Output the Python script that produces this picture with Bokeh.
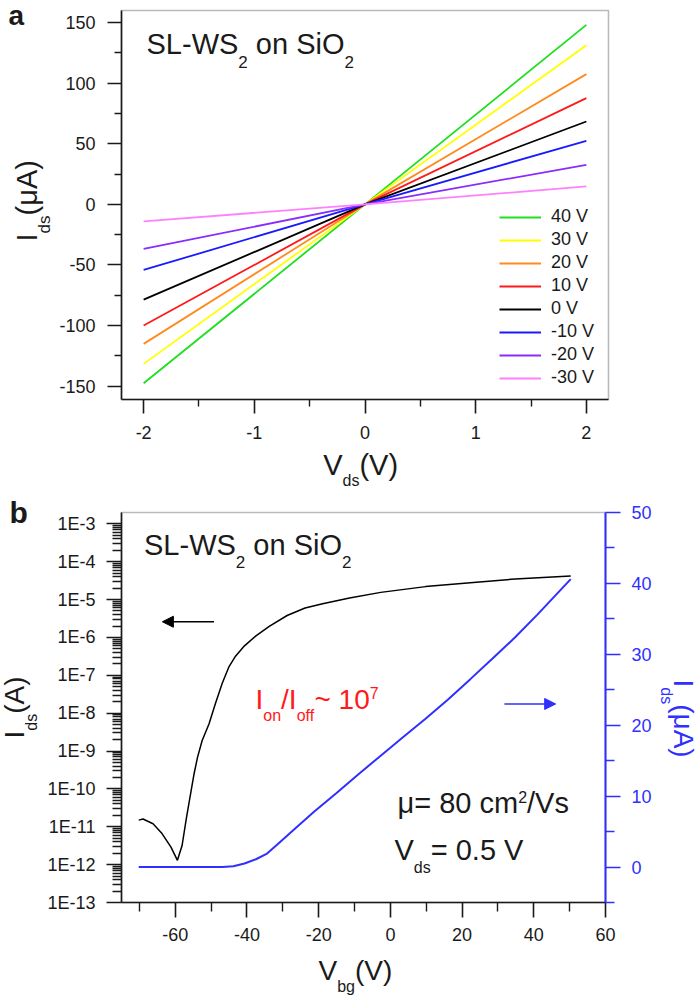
import math
from bokeh.plotting import figure
from bokeh.layouts import column
from bokeh.models import (Range1d, LinearScale, LinearAxis, FixedTicker, CustomJSTickFormatter,
                          Label, Arrow, NormalHead, Legend, LegendItem, BoxAnnotation)
from bokeh.embed import file_html
from bokeh.resources import INLINE

FONT = "Liberation Sans"
INK = "#1a1a1a"
BLUE = "#2f2fff"

# ---------------- panel a : Ids vs Vds for several back-gate voltages ----------------
vds = [-2.0, 0.0, 2.0]
gate_labels = ["40 V", "30 V", "20 V", "10 V", "0 V", "-10 V", "-20 V", "-30 V"]
gate_colors = ["#1ee01e", "#ffff00", "#ff8a1e", "#ff1a1a", "#000000", "#1a1aff", "#8a2cff", "#ff80ff"]
ids_p40 = [-147.6, 0.0, 148.1]
ids_p30 = [-131.6, 0.0, 131.4]
ids_p20 = [-115.1, 0.0, 107.5]
ids_p10 = [-100.0, 0.0, 87.7]
ids_0 = [-78.6, 0.0, 68.4]
ids_m10 = [-54.1, 0.0, 52.5]
ids_m20 = [-36.8, 0.0, 32.7]
ids_m30 = [-14.0, 0.0, 14.8]
a_xticks = [-2, -1, 0, 1, 2]
a_xminor = [-1.5, -0.5, 0.5, 1.5]
a_yticks = [-150, -100, -50, 0, 50, 100, 150]
a_yminor = [-125, -75, -25, 25, 75, 125]
a_xlim = (-2.2, 2.2)
a_ylim = (-161, 160)

# ---------------- panel b : transfer curve ----------------
vbg_log = [-70.2, -69.0, -66.2, -63.7, -61.2, -59.4, -58.1, -56.9, -55.6, -54.8, -53.8,
           -52.5, -50.6, -48.8, -46.9, -45.0, -43.2, -40.7, -37.5, -33.8, -28.8, -23.8,
           -18.9, -11.4, -2.7, 9.8, 22.3, 34.8, 50.3]
ids_log = [1.5e-11, 1.6e-11, 1.2e-11, 6.6e-12, 2.9e-12, 1.3e-12, 3.2e-12, 1.7e-11, 8.7e-11,
           2.4e-10, 6.8e-10, 1.9e-9, 5.2e-9, 1.8e-8, 6.2e-8, 1.7e-7, 3.2e-7, 6.0e-7, 1.1e-6,
           1.95e-6, 3.8e-6, 6.0e-6, 7.8e-6, 1.1e-5, 1.55e-5, 2.2e-5, 2.8e-5, 3.5e-5, 4.2e-5]
vbg_lin = [-70.2, -46.9, -43.8, -40.7, -37.5, -34.4, -31.3, -27.5, -21.3, -15.1, -8.9, -2.7,
           3.5, 9.8, 16.0, 22.3, 28.5, 34.8, 41.0, 50.3]
ids_lin = [0.0, 0.0, 0.1, 0.5, 1.1, 1.9, 3.3, 5.0, 7.8, 10.4, 13.1, 15.7, 18.3, 20.9, 23.6,
           26.5, 29.4, 32.4, 35.6, 40.6]
b_xticks = [-60, -40, -20, 0, 20, 40, 60]
b_xminor = [-70, -50, -30, -10, 10, 30, 50]
b_logdec = list(range(-13, -2))
b_rticks = [0, 10, 20, 30, 40, 50]
b_rminor = [-5, 5, 15, 25, 35, 45]
b_xlim = (-75, 60)
b_ylog = (-13.0, -2.7)      # log10 of the left-axis limits
b_rlim = (-5, 50)
arrow_left = dict(x0=-49.2, x1=-63.6, y=2.6e-6)
arrow_right = dict(x0=31.8, x1=46.1, y=23.0)

# ---------------- page geometry (pixels) ----------------
W_PAGE = 700
H1, H2 = 490, 508
BOX1 = dict(l=121, r=608, t=10, b=399)          # plot box of panel a (in figure pixels)
BOX2 = dict(l=121, r=605, t=22, b=412)          # plot box of panel b (in figure pixels)
OFF2 = H1                                       # page y of panel b's top
BASE_FIX = 0.39                                 # label anchor correction (fraction of font size)

# Arial advance widths (1/1000 em) for rich-text layout
W = {' ': 278, '(': 333, ')': 333, '-': 333, '.': 278, '/': 278, '=': 584, '~': 584,
     'A': 667, 'E': 667, 'I': 278, 'L': 556, 'O': 778, 'S': 667, 'V': 667, 'W': 944,
     'b': 556, 'c': 500, 'd': 556, 'f': 278, 'g': 556, 'i': 222, 'm': 833, 'n': 556,
     'o': 556, 's': 500, 'μ': 576}


def tw(s, size):
    return sum(W.get(c, 556) for c in s) * size / 1000.0


def extend(lo, hi, p_lo, p_hi, p_min, p_max):
    """data range that puts data lo..hi on pixels p_lo..p_hi of a frame spanning p_min..p_max"""
    k = (hi - lo) / (p_hi - p_lo)
    return lo - (p_lo - p_min) * k, hi + (p_max - p_hi) * k


def rich(fig, fh, px, py, parts, angle=0.0, color=INK, style="normal"):
    ca, sa = math.cos(angle), math.sin(angle)
    sx0, sy0 = px, fh - py
    adv = 0.0
    for txt, fs, shift in parts:
        lead = len(txt) - len(txt.lstrip(' '))
        adv += tw(' ' * lead, fs)
        body = txt.strip(' ')
        up = shift + BASE_FIX * fs
        sx = sx0 + adv * ca - up * sa
        sy = sy0 + adv * sa + up * ca
        fig.add_layout(Label(x=sx, y=sy, x_units="screen", y_units="screen", text=body,
                             angle=angle, text_font=FONT, text_font_size=f"{fs}px",
                             text_color=color, text_font_style=style,
                             text_baseline="alphabetic", text_align="left"))
        adv += tw(txt.lstrip(' '), fs)


def style_axis(ax, color=INK, label_size="18px", standoff=10, tick=14, minor=7):
    ax.axis_line_color = color
    ax.axis_line_width = 1.6
    ax.major_tick_line_color = color
    ax.minor_tick_line_color = color
    ax.major_tick_line_width = 1.6
    ax.minor_tick_line_width = 1.4
    ax.major_tick_in = 0
    ax.minor_tick_in = 0
    ax.major_tick_out = tick
    ax.minor_tick_out = minor
    ax.major_label_text_font = FONT
    ax.major_label_text_font_size = label_size
    ax.major_label_text_color = color
    ax.major_label_standoff = standoff


int_fmt = CustomJSTickFormatter(code="return tick.toFixed(0);")

# ---------------- figure a ----------------
x1r = extend(a_xlim[0], a_xlim[1], BOX1["l"], BOX1["r"], 0, W_PAGE)
y1r = extend(a_ylim[0], a_ylim[1], H1 - BOX1["b"], H1 - BOX1["t"], 0, H1)
p1 = figure(width=W_PAGE, height=H1, x_range=Range1d(*x1r), y_range=Range1d(*y1r),
            output_backend="svg", toolbar_location=None, min_border=0,
            min_border_left=0, min_border_right=0, min_border_top=0, min_border_bottom=0)
p1.xgrid.visible = False
p1.ygrid.visible = False
p1.outline_line_color = None
p1.add_layout(BoxAnnotation(left=a_xlim[0], right=a_xlim[1], bottom=a_ylim[0], top=a_ylim[1],
                            fill_color=None, fill_alpha=0, line_color=INK, line_width=1.6,
                            level="underlay"))

series = [ids_p40, ids_p30, ids_p20, ids_p10, ids_0, ids_m10, ids_m20, ids_m30]
items = []
for lab, col, ys in zip(gate_labels, gate_colors, series):
    r = p1.line(vds, ys, line_color=col, line_width=1.8)
    items.append(LegendItem(label=lab, renderers=[r]))
leg = Legend(items=items, location=(499, H1 - 388), padding=0, margin=0, spacing=2,
             glyph_width=42, glyph_height=20, label_height=20, label_standoff=10,
             label_text_font=FONT, label_text_font_size="18px", label_text_color=INK,
             border_line_color=None, background_fill_alpha=0)
p1.add_layout(leg)

xa = p1.xaxis[0]
xa.ticker = FixedTicker(ticks=a_xticks, minor_ticks=a_xminor)
xa.formatter = int_fmt
xa.fixed_location = a_ylim[0]
xa.bounds = a_xlim
style_axis(xa, standoff=12, tick=14, minor=7)
ya = p1.yaxis[0]
ya.ticker = FixedTicker(ticks=a_yticks, minor_ticks=a_yminor)
ya.formatter = int_fmt
ya.fixed_location = a_xlim[0]
ya.bounds = a_ylim
style_axis(ya, standoff=12, tick=14, minor=7)

rich(p1, H1, 8, 26, [("a", 28, 0)], style="bold")
rich(p1, H1, 146, 55, [("SL-WS", 29, 0), ("2", 17, -13), (" on SiO", 29, 0), ("2", 17, -13)])
rich(p1, H1, 37.5, 241, [("I", 29, 0), ("ds", 17, -13), ("(μA)", 29, 0)], angle=math.pi / 2)
rich(p1, H1, 322.7, 476, [("V", 29, 0), ("ds", 16, -10), ("(V)", 29, 0)])

# ---------------- figure b ----------------
x2r = extend(b_xlim[0], b_xlim[1], BOX2["l"], BOX2["r"], 0, W_PAGE)
ylg = extend(b_ylog[0], b_ylog[1], H2 - BOX2["b"], H2 - BOX2["t"], 0, H2)
y2r = (10 ** ylg[0], 10 ** ylg[1])
r2r = extend(b_rlim[0], b_rlim[1], H2 - BOX2["b"], H2 - BOX2["t"], 0, H2)
p2 = figure(width=W_PAGE, height=H2, x_range=Range1d(*x2r), y_range=Range1d(*y2r),
            y_axis_type="log", output_backend="svg", toolbar_location=None, min_border=0,
            min_border_left=0, min_border_right=0, min_border_top=0, min_border_bottom=0)
p2.xgrid.visible = False
p2.ygrid.visible = False
p2.outline_line_color = None
p2.extra_y_ranges = {"lin": Range1d(*r2r)}
p2.extra_y_scales = {"lin": LinearScale()}
p2.add_layout(BoxAnnotation(left=b_xlim[0], right=b_xlim[1],
                            bottom=10 ** b_ylog[0], top=10 ** b_ylog[1],
                            fill_color=None, fill_alpha=0, line_color=INK, line_width=1.6,
                            level="underlay"))

p2.line(vbg_log, ids_log, line_color="black", line_width=1.5)
p2.line(vbg_lin, ids_lin, line_color=BLUE, line_width=2, y_range_name="lin")

xb = p2.xaxis[0]
xb.ticker = FixedTicker(ticks=b_xticks, minor_ticks=b_xminor)
xb.formatter = int_fmt
xb.fixed_location = 10 ** b_ylog[0]
xb.bounds = b_xlim
style_axis(xb, standoff=10, tick=15, minor=9)

yb = p2.yaxis[0]
yb.ticker = FixedTicker(ticks=[10.0 ** k for k in b_logdec],
                        minor_ticks=[m * 10.0 ** k for k in b_logdec[:-1] for m in range(2, 10)])
yb.formatter = CustomJSTickFormatter(code="return '1E' + Math.round(Math.log10(tick));")
yb.fixed_location = b_xlim[0]
yb.bounds = (10 ** b_ylog[0], 10 ** b_ylog[1])
style_axis(yb, standoff=11, tick=15, minor=9)

yr = LinearAxis(y_range_name="lin")
yr.ticker = FixedTicker(ticks=b_rticks, minor_ticks=b_rminor)
yr.formatter = int_fmt
yr.fixed_location = b_xlim[1]
yr.bounds = b_rlim
style_axis(yr, color=BLUE, standoff=11, tick=15, minor=9)
yr.axis_line_width = 2
p2.add_layout(yr, "right")

p2.add_layout(Arrow(end=NormalHead(size=11, fill_color="black", line_color="black", line_width=1),
                    x_start=arrow_left["x0"], y_start=arrow_left["y"],
                    x_end=arrow_left["x1"], y_end=arrow_left["y"],
                    line_color="black", line_width=1.6))
p2.add_layout(Arrow(end=NormalHead(size=11, fill_color=BLUE, line_color=BLUE, line_width=1),
                    x_start=arrow_right["x0"], y_start=arrow_right["y"],
                    x_end=arrow_right["x1"], y_end=arrow_right["y"],
                    line_color=BLUE, line_width=1.6, y_range_name="lin"))


def r2(px, py, parts, **kw):
    rich(p2, H2, px, py - OFF2, parts, **kw)


r2(9, 523.5, [("b", 30, 0)], style="bold")
r2(143.5, 556, [("SL-WS", 29, 0), ("2", 17, -12), (" on SiO", 29, 0), ("2", 17, -12)])
r2(255, 710, [("I", 28, 0), ("on", 16, -11), ("/I", 28, 0), ("off", 16, -11),
              ("~ 10", 28, 0), ("7", 16, 11)], color="#ff1a1a")
r2(397, 814, [("μ= 80 cm", 29, 0), ("2", 16, 11), ("/Vs", 29, 0)])
r2(394, 861, [("V", 29, 0), ("ds", 16, -12), ("= 0.5 V", 29, 0)])
r2(25, 738, [("I", 28, 0), ("ds", 16, -12), ("(A)", 28, 0)], angle=math.pi / 2)
r2(672, 679, [("I", 28, 0), ("ds", 16, -12), ("(μA)", 28, 0)], angle=-math.pi / 2, color=BLUE)
r2(318, 981, [("V", 28, 0), ("bg", 16, -11), ("(V)", 28, 0)])

layout = column(p1, p2, spacing=0)
open("out.html", "w").write(file_html(layout, INLINE))
